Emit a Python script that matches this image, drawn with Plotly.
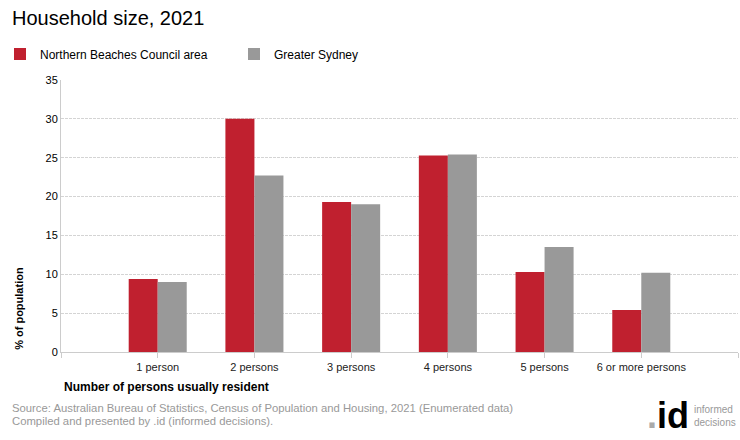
import plotly.graph_objects as go

categories = ["1 person", "2 persons", "3 persons", "4 persons", "5 persons", "6 or more persons"]
northern_beaches = [9.4, 30.0, 19.3, 25.3, 10.3, 5.4]
greater_sydney = [9.0, 22.7, 19.0, 25.4, 13.5, 10.2]
y_ticks = [0, 5, 10, 15, 20, 25, 30, 35]

FONT = "Liberation Sans, Arial, sans-serif"
RED = "#c0202f"
GREY = "#999999"

x_pos = list(range(len(categories)))

fig = go.Figure()
fig.add_trace(go.Bar(x=x_pos, y=northern_beaches, name="Northern Beaches Council area",
                     marker=dict(color=RED, line=dict(width=0))))
fig.add_trace(go.Bar(x=x_pos, y=greater_sydney, name="Greater Sydney",
                     marker=dict(color=GREY, line=dict(width=0))))

tickvals = [-1] + x_pos + [len(categories)]
ticktext = [""] + categories + [""]

fig.update_layout(
    width=740, height=440,
    margin=dict(l=61, r=2, t=80, b=88, autoexpand=False),
    paper_bgcolor="white", plot_bgcolor="white",
    barmode="group", bargap=0.4, bargroupgap=0,
    font=dict(family=FONT, size=11, color="#000"),
    showlegend=True,
    legend=dict(orientation="h", xref="container", yref="container", x=0.0, xanchor="left",
                y=1 - 54 / 440, yanchor="middle",
                font=dict(family=FONT, size=12, color="#000"),
                entrywidth=189, entrywidthmode="pixels",
                tracegroupgap=0, bgcolor="rgba(0,0,0,0)"),
    xaxis=dict(range=[-1, len(categories)], tickmode="array", tickvals=tickvals, ticktext=ticktext,
               showgrid=False, zeroline=False, showline=True, linecolor="#cccccc", linewidth=1,
               ticks="outside", ticklen=5, tickcolor="#cccccc",
               tickfont=dict(family=FONT, size=11, color="#222"), fixedrange=True),
    yaxis=dict(range=[0, 35], tickmode="array", tickvals=y_ticks,
               showgrid=True, gridcolor="#d4d4d4", griddash="3px,1px", gridwidth=1,
               zeroline=False, showline=True, linecolor="#cccccc", linewidth=1,
               ticks="", tickfont=dict(family=FONT, size=11, color="#000"), fixedrange=True),
    annotations=[
        dict(text="Household size, 2021", xref="paper", yref="paper", x=-0.0753, y=1.228,
             xanchor="left", yanchor="middle", showarrow=False,
             font=dict(family=FONT, size=20, color="#000")),
        dict(text="<b>% of population</b>", xref="paper", yref="paper", x=-0.063, y=0.0,
             xanchor="center", yanchor="bottom", textangle=-90, showarrow=False,
             font=dict(family=FONT, size=11, color="#000")),
        dict(text="<b>Number of persons usually resident</b>", xref="paper", yref="paper",
             x=0.002, y=-0.13, xanchor="left", yanchor="middle", showarrow=False,
             font=dict(family=FONT, size=12, color="#000")),
        dict(text="Source: Australian Bureau of Statistics, Census of Population and Housing, 2021 (Enumerated data)",
             xref="paper", yref="paper", x=-0.0753, y=-0.205, xanchor="left", yanchor="middle",
             showarrow=False, font=dict(family=FONT, size=11.3, color="#999999")),
        dict(text="Compiled and presented by .id (informed decisions).",
             xref="paper", yref="paper", x=-0.0753, y=-0.253, xanchor="left", yanchor="middle",
             showarrow=False, font=dict(family=FONT, size=11.3, color="#999999")),
        dict(text="<b><span style='color:#aaaaaa'>.</span>id</b>", xref="paper", yref="paper",
             x=0.93, y=-0.235, xanchor="right", yanchor="middle", showarrow=False,
             font=dict(family=FONT, size=36, color="#000")),
        dict(text="informed<br>decisions", xref="paper", yref="paper",
             x=0.932, y=-0.235, xanchor="left", yanchor="middle", showarrow=False, align="left",
             font=dict(family=FONT, size=10, color="#999999")),
    ],
)

fig.write_html("out.html", config={"displayModeBar": False},
               post_script="document.body.style.margin='0';")
